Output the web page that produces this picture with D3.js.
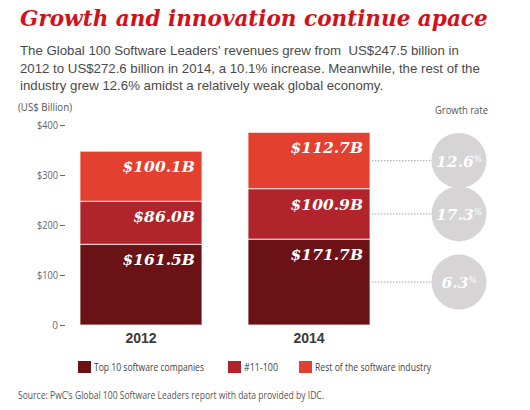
<!DOCTYPE html>
<html><head><meta charset="utf-8">
<script src="https://cdnjs.cloudflare.com/ajax/libs/d3/7.8.5/d3.min.js"></script>
<style>body{margin:0;background:#fff}svg{display:block}</style>
</head><body><div id="c"></div>
<script>
const years = ["2012", "2014"];
const seriesNames = ["Top 10 software companies", "#11-100", "Rest of the software industry"];
const top10 = [161.5, 171.7];
const rank11to100 = [86.0, 100.9];
const restOfIndustry = [100.1, 112.7];
const growthRates = ["6.3", "17.3", "12.6"];
const yTicks = [0, 100, 200, 300, 400];
const colors = ["#6a1215", "#b1242b", "#e4402f"];

const W = 530, H = 410;
const svg = d3.select("#c").append("svg").attr("width", W).attr("height", H);

function fit(sel, target) {
  const n = sel.node();
  const fs = parseFloat(sel.attr("font-size"));
  const len = n.getComputedTextLength();
  sel.attr("font-size", (fs * target / len).toFixed(2));
  return fs * target / len;
}
function squeeze(sel, target) {
  sel.attr("textLength", target).attr("lengthAdjust", "spacingAndGlyphs");
}

// Title
const title = svg.append("text").attr("x", 20).attr("y", 26)
  .attr("font-family", "DejaVu Serif").attr("font-weight", "bold").attr("font-style", "italic")
  .attr("font-size", 20).attr("fill", "#d2121b").text("Growth and innovation continue apace");
fit(title, 468);

// Subtitle
const sub = ["The Global 100 Software Leaders' revenues grew from  US$247.5 billion in",
  "2012 to US$272.6 billion in 2014, a 10.1% increase. Meanwhile, the rest of the",
  "industry grew 12.6% amidst a relatively weak global economy."];
const subY = [55, 72.5, 90];
const subSel = svg.append("g").selectAll("text").data(sub).join("text")
  .attr("x", 20).attr("y", (d, i) => subY[i])
  .attr("font-family", "Liberation Sans").attr("font-size", 14).attr("fill", "#4a4a4a")
  .style("white-space", "pre").text(d => d);
const fsSub = fit(d3.select(subSel.nodes()[1]), 460);
subSel.attr("font-size", fsSub.toFixed(2));

// Scales
const x = d3.scaleBand().domain(years).range([80, 370]).paddingInner(0.274).paddingOuter(0);
const y = d3.scaleLinear().domain([0, 400]).range([325, 125]);

// Axis
const ax = svg.append("g").attr("transform", "translate(66,0)")
  .call(d3.axisLeft(y).tickValues(yTicks).tickSize(6).tickPadding(2)
    .tickFormat(d => d === 0 ? "0" : "$" + d));
ax.select(".domain").remove();
ax.selectAll(".tick line").attr("stroke", "#666").attr("x1", -1);
ax.selectAll(".tick text").attr("font-family", "Open Sans").attr("font-size", 10).attr("fill", "#666")
  .each(function (d) { if (d !== 0) squeeze(d3.select(this), 21); });

const unit = svg.append("text").attr("x", 18).attr("y", 111).attr("font-family", "Open Sans")
  .attr("font-size", 10).attr("fill", "#555").text("(US$ Billion)");
squeeze(unit, 54);

// Stacks
const rows = years.map((yr, i) => ({ year: yr, a: top10[i], b: rank11to100[i], c: restOfIndustry[i] }));
const stack = d3.stack().keys(["a", "b", "c"])(rows);
const g = svg.append("g");
stack.forEach((layer, li) => {
  g.selectAll(null).data(layer).join("rect")
    .attr("x", d => x(d.data.year)).attr("width", x.bandwidth())
    .attr("y", d => y(d[1])).attr("height", d => y(d[0]) - y(d[1]))
    .attr("fill", colors[li]).attr("stroke", "#fff").attr("stroke-opacity", 0.75).attr("stroke-width", 1);
  g.selectAll(null).data(layer).join("text")
    .attr("x", d => x(d.data.year) + x.bandwidth() - 7).attr("y", d => y(d[1]) + 21)
    .attr("text-anchor", "end").attr("font-family", "DejaVu Serif").attr("font-weight", "bold")
    .attr("font-style", "italic").attr("font-size", 15.5).attr("fill", "#fff")
    .text(d => "$" + (d[1] - d[0]).toFixed(1) + "B");
});

// Year labels
svg.append("g").selectAll("text").data(years).join("text")
  .attr("x", d => x(d) + x.bandwidth() / 2).attr("y", 343).attr("text-anchor", "middle")
  .attr("font-family", "Liberation Sans").attr("font-weight", "bold").attr("font-size", 14)
  .attr("fill", "#3a3a3a").text(d => d);

// Growth rate circles
const gr = svg.append("text").attr("x", 435).attr("y", 114)
  .attr("font-family", "Open Sans").attr("font-size", 10).attr("fill", "#555").text("Growth rate");
squeeze(gr, 53);
const last = stack.map(l => l[1]);
const cx = 459, r = 27.5;
last.forEach((d, i) => {
  const cy = y((d[0] + d[1]) / 2);
  svg.append("line").attr("x1", 372).attr("x2", cx - r).attr("y1", cy).attr("y2", cy)
    .attr("stroke", "#b5b5b5").attr("stroke-width", 1.2).attr("stroke-dasharray", "1.5,1.5");
  svg.append("circle").attr("cx", cx).attr("cy", cy).attr("r", r).attr("fill", "#d6d4d4");
  const t = svg.append("text").attr("x", cx).attr("y", cy + 6).attr("text-anchor", "middle")
    .attr("font-family", "DejaVu Serif").attr("font-style", "italic").attr("font-weight", "bold")
    .attr("font-size", 15.5).attr("fill", "#fff");
  t.append("tspan").text(growthRates[i]);
  t.append("tspan").attr("font-size", 8.5).attr("font-weight", "normal").attr("dy", -5).text("%");
});

// Legend
const legX = [78, 228, 299];
const legW = [110, 34, 116];
seriesNames.forEach((s, i) => {
  svg.append("rect").attr("x", legX[i]).attr("y", 361).attr("width", 13).attr("height", 12).attr("fill", colors[i]);
  const t = svg.append("text").attr("x", legX[i] + 16).attr("y", 371)
    .attr("font-family", "Open Sans").attr("font-size", 10.5).attr("fill", "#444").text(s);
  squeeze(t, legW[i]);
});

// Source
const src = svg.append("text").attr("x", 18).attr("y", 398.5).attr("font-family", "Open Sans")
  .attr("font-size", 10).attr("fill", "#555")
  .text("Source: PwC\u2019s Global 100 Software Leaders report with data provided by IDC.");
squeeze(src, 306);
</script></body></html>
